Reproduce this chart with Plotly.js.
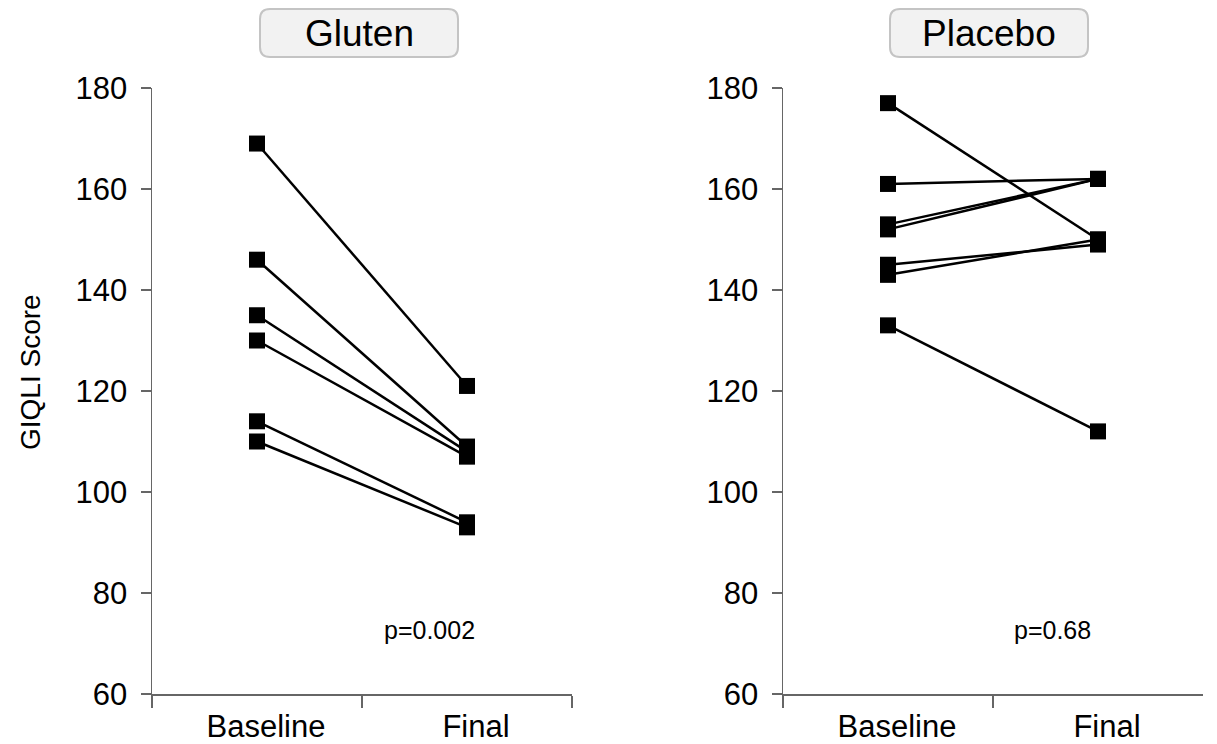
<!DOCTYPE html>
<html>
<head>
<meta charset="utf-8">
<script src="https://cdn.plot.ly/plotly-3.0.1.min.js"></script>
<style>html,body{margin:0;padding:0;background:#fff;}#chart{width:1217px;height:744px;}</style>
</head>
<body>
<div id="chart"></div>
<script>
// ---- data ----
var timepoints = ['Baseline', 'Final'];
var glutenBaseline = [169, 146, 135, 130, 114, 110];
var glutenFinal    = [121, 109, 108, 107, 94, 93];
var placeboBaseline = [177, 161, 153, 152, 145, 143, 133];
var placeboFinal    = [150, 162, 162, 162, 149, 150, 112];
var panelTitles = ['Gluten', 'Placebo'];
var pValues = ['p=0.002', 'p=0.68'];
var yTitle = 'GIQLI Score';

var W = 1217, H = 744;
var FONT = 'Liberation Sans, Arial, Helvetica, sans-serif';
function px(x){ return x / W; }
function py(y){ return (H - y) / H; }

var traces = [];
function addPanel(base, fin, xa, ya){
  for (var i = 0; i < base.length; i++){
    traces.push({
      type: 'scatter', mode: 'lines+markers',
      x: timepoints, y: [base[i], fin[i]],
      xaxis: xa, yaxis: ya,
      line: {color: '#000', width: 2.5},
      marker: {symbol: 'square', size: 16, color: '#000'},
      cliponaxis: false, showlegend: false, hoverinfo: 'y'
    });
  }
}
addPanel(glutenBaseline, glutenFinal, 'x', 'y');
addPanel(placeboBaseline, placeboFinal, 'x2', 'y2');

function xAxis(d, anchor){
  return {
    domain: d, anchor: anchor, type: 'category', categoryarray: timepoints,
    range: [-0.5, 1.5], tickson: 'boundaries', ticks: 'outside', ticklen: 12,
    tickcolor: '#666', tickwidth: 1.5, showline: true, linecolor: '#666', linewidth: 1.5,
    showgrid: false, zeroline: false, automargin: false,
    tickfont: {family: FONT, size: 31, color: '#000'}, ticklabelstandoff: 4, ticklabelshift: 9
  };
}
function yAxis(anchor){
  return {
    domain: [py(694), py(88)], anchor: anchor, range: [60, 180], dtick: 20,
    ticks: 'outside', ticklen: 10, tickcolor: '#666', tickwidth: 1.5,
    showline: true, linecolor: '#666', linewidth: 1.5, showgrid: false, zeroline: false,
    automargin: false, tickfont: {family: FONT, size: 31, color: '#000'}, ticklabelstandoff: 7
  };
}

function roundRect(x0, y0, x1, y1, r){
  var p = function(x, y){ return px(x).toFixed(5) + ',' + py(y).toFixed(5); };
  return 'M' + p(x0 + r, y0) + ' L' + p(x1 - r, y0) + ' Q' + p(x1, y0) + ' ' + p(x1, y0 + r) +
    ' L' + p(x1, y1 - r) + ' Q' + p(x1, y1) + ' ' + p(x1 - r, y1) +
    ' L' + p(x0 + r, y1) + ' Q' + p(x0, y1) + ' ' + p(x0, y1 - r) +
    ' L' + p(x0, y0 + r) + ' Q' + p(x0, y0) + ' ' + p(x0 + r, y0) + ' Z';
}

var boxes = [[260, 458], [890, 1088]];
var shapes = boxes.map(function(b){
  return {type: 'path', xref: 'paper', yref: 'paper', path: roundRect(b[0], 9, b[1], 57, 10),
    fillcolor: '#f2f2f2', line: {color: '#c4c4c4', width: 2}, layer: 'above'};
});

var annotations = [];
boxes.forEach(function(b, i){
  annotations.push({xref: 'paper', yref: 'paper', x: px((b[0] + b[1]) / 2), y: py(34),
    text: panelTitles[i], showarrow: false, xanchor: 'center', yanchor: 'middle',
    font: {family: FONT, size: 37, color: '#000'}});
});
var pPos = [[429, 630], [1052, 630]];
pPos.forEach(function(p, i){
  annotations.push({xref: 'paper', yref: 'paper', x: px(p[0]), y: py(p[1]),
    text: pValues[i], showarrow: false, xanchor: 'center', yanchor: 'middle',
    font: {family: FONT, size: 25, color: '#000'}});
});
annotations.push({xref: 'paper', yref: 'paper', x: px(30), y: py(372), text: yTitle,
  textangle: -90, showarrow: false, xanchor: 'center', yanchor: 'middle',
  font: {family: FONT, size: 28, color: '#000'}});

var layout = {
  width: W, height: H, margin: {l: 0, r: 0, t: 0, b: 0},
  paper_bgcolor: '#fff', plot_bgcolor: '#fff', showlegend: false,
  xaxis: xAxis([px(152), px(572)], 'y'),
  yaxis: yAxis('x'),
  xaxis2: xAxis([px(783), px(1203)], 'y2'),
  yaxis2: yAxis('x2'),
  shapes: shapes, annotations: annotations
};

Plotly.newPlot('chart', traces, layout, {displayModeBar: false, staticPlot: true});
</script>
</body>
</html>
